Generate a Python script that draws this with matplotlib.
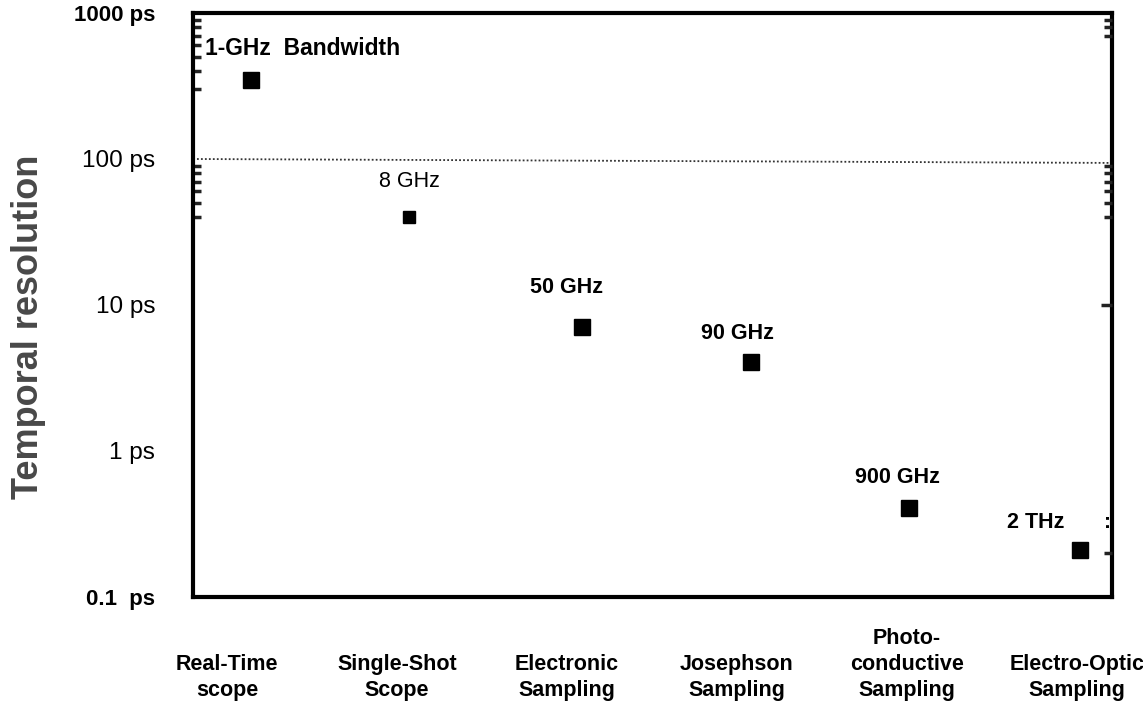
import numpy as np
import matplotlib
matplotlib.use("Agg")
import matplotlib.pyplot as plt
import matplotlib.transforms as mtransforms
from matplotlib.ticker import FixedLocator, NullFormatter

plt.rcParams['font.family'] = ['Liberation Sans', 'DejaVu Sans']

# data
categories = ["Real-Time\nscope", "Single-Shot\nScope", "Electronic\nSampling",
              "Josephson\nSampling", "Photo-\nconductive\nSampling", "Electro-Optic\nSampling"]
marker_x = [0.14, 0.07, 0.09, 0.08, 0.01, 0.02]   # offset of each marker from its category
resolution_ps = [347, 40, 7.1, 4.1, 0.41, 0.21]
bandwidth_labels = ["1-GHz  Bandwidth", "8 GHz", "50 GHz", "90 GHz", "900 GHz", "2 THz"]
ref_line_ps = [100, 94]   # dotted 100 ps line, left and right end
y_ticks = [0.1, 1, 10, 100, 1000]
y_tick_labels = ["0.1  ps", "1 ps", "10 ps", "100 ps", "1000 ps"]

fig = plt.figure(figsize=(11.43, 7.03), dpi=100)
ax = fig.add_axes([193/1143, 1 - 597/703, (1112-193)/1143, (597-13)/703])
ax.set_yscale('log')
ax.set_ylim(0.1, 1000)
ax.set_xlim(-0.2, 5.206)

xs = np.arange(len(categories)) + np.array(marker_x)
sizes = [12, 8, 12, 12, 12, 12]
for x, y, s in zip(xs, resolution_ps, sizes):
    ax.plot(x, y, 's', color='black', markersize=s)

# annotations (offsets in pixels from the markers)
offsets = [(-46, 32), (1, 36), (-16, 39), (-13, 28), (-11, 30), (-45, 27)]
has = ['left', 'center', 'center', 'center', 'center', 'center']
weights = ['bold', 'normal', 'bold', 'bold', 'bold', 'bold']
fsizes = [16.5, 15.5, 15.5, 15.5, 15.5, 15.5]
for x, y, t, off, h, w, f in zip(xs, resolution_ps, bandwidth_labels, offsets, has, weights, fsizes):
    ax.annotate(t, (x, y), xytext=off, textcoords='offset pixels', ha=h, va='center',
                fontsize=f, fontweight=w, color='black')
fig.text(1107/1143, 1 - 523/703, ":", fontsize=15, fontweight='bold', ha='center', va='center')

# dotted reference line at 100 ps
xl = ax.get_xlim()
ax.plot(xl, ref_line_ps, linestyle=(0, (1, 1.2)), color='#333333', linewidth=1.3)

for sp in ax.spines.values():
    sp.set_linewidth(3)
    sp.set_color('black')

ax.set_xticks([])
ax.yaxis.set_major_locator(FixedLocator(y_ticks))
ax.set_yticklabels(y_tick_labels)
ax.yaxis.set_minor_locator(FixedLocator([40, 50, 60, 70, 80, 90, 300, 400, 500, 600, 700, 800, 900]))
ax.yaxis.set_minor_formatter(NullFormatter())
ax.tick_params(axis='y', which='major', length=0, pad=38*0.72, labelsize=17.5)
ax.tick_params(axis='y', which='minor', direction='in', length=6, width=2.5, color='#222222')
for lbl in ax.get_yticklabels():
    if lbl.get_text() in ("1000 ps", "0.1  ps"):
        lbl.set_fontweight('bold')
        lbl.set_fontsize(16)

# right side tick marks
ax2 = ax.twinx()
ax2.set_yscale('log')
ax2.set_ylim(0.1, 1000)
ax2.spines[:].set_visible(False)
ax2.yaxis.set_major_locator(FixedLocator([10]))
ax2.yaxis.set_major_formatter(NullFormatter())
ax2.yaxis.set_minor_locator(FixedLocator([0.2, 40, 50, 60, 70, 80, 90, 700, 800, 900]))
ax2.yaxis.set_minor_formatter(NullFormatter())
ax2.tick_params(axis='y', which='major', direction='in', length=8, width=2.5, color='#222222')
ax2.tick_params(axis='y', which='minor', direction='in', length=6, width=2.5, color='#222222')

# category labels below the axis
trans = mtransforms.blended_transform_factory(ax.transData, ax.transAxes)
for i, c in enumerate(categories):
    ax.text(i, -0.178, c, transform=trans, ha='center', va='bottom', fontsize=15.5,
            fontweight='bold', linespacing=1.3)

fig.text(29/1143, 1 - 327/703, "Temporal resolution", rotation=90, ha='center', va='center',
         fontsize=26, fontweight='bold', color='#484848')

fig.savefig("out.png", dpi=100)
